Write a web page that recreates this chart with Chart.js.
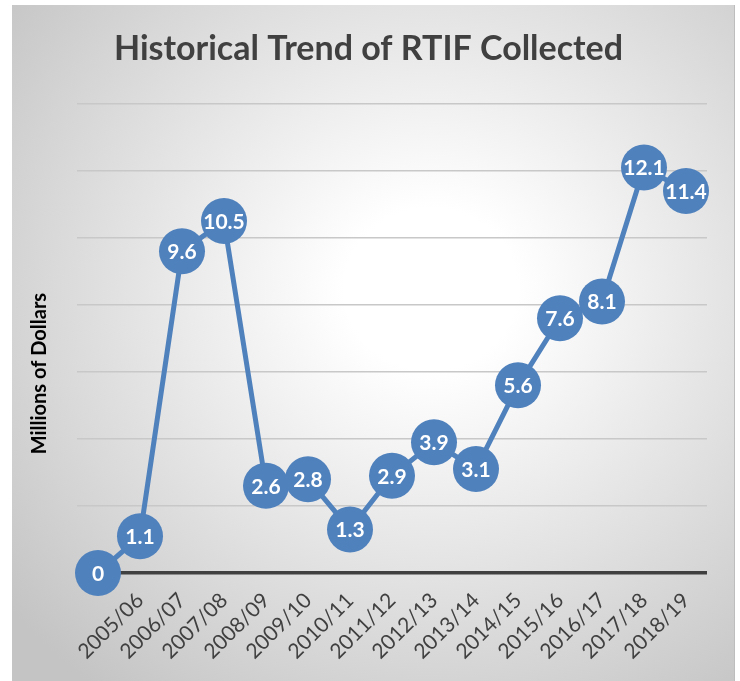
<!DOCTYPE html>
<html>
<head>
<meta charset="utf-8">
<script src="https://cdn.jsdelivr.net/npm/chart.js@4/dist/chart.umd.min.js"></script>
<style>
  html, body { margin: 0; padding: 0; background: #ffffff; }
  #bg {
    position: absolute; left: 12px; top: 5px; width: 722px; height: 676px;
    background: radial-gradient(ellipse 75% 75% at 58% 42%, #ffffff 0%, #ffffff 16%, #c4c4c4 100%);
    border-right: 1px solid #bdbdbd;
  }
  #wrap { position: absolute; left: 0; top: 0; width: 740px; height: 681px; }
</style>
</head>
<body>
<div id="bg"></div>
<div id="wrap"><canvas id="c" width="740" height="681"></canvas></div>
<script>
const categories = ['', '2005/06', '2006/07', '2007/08', '2008/09', '2009/10', '2010/11', '2011/12', '2012/13', '2013/14', '2014/15', '2015/16', '2016/17', '2017/18', '2018/19'];
const rtifCollected = [0, 1.1, 9.6, 10.5, 2.6, 2.8, 1.3, 2.9, 3.9, 3.1, 5.6, 7.6, 8.1, 12.1, 11.4];
const chartTitle = 'Historical Trend of RTIF Collected';
const yAxisTitle = 'Millions of Dollars';

const pointLabels = {
  id: 'pointLabels',
  afterDatasetsDraw(chart) {
    const ctx = chart.ctx;
    const meta = chart.getDatasetMeta(0);
    ctx.save();
    ctx.fillStyle = '#ffffff';
    ctx.font = 'bold 21px Lato';
    ctx.textAlign = 'center';
    ctx.textBaseline = 'middle';
    meta.data.forEach((el, i) => {
      ctx.fillText(String(rtifCollected[i]), el.x, el.y + 1);
    });
    ctx.restore();
  }
};

const yTitlePlugin = {
  id: 'yTitlePlugin',
  afterDraw(chart) {
    const ctx = chart.ctx;
    const area = chart.chartArea;
    ctx.save();
    ctx.translate(40, area.top + (area.bottom - area.top) * 0.575);
    ctx.rotate(-Math.PI / 2);
    ctx.fillStyle = '#000000';
    ctx.font = 'bold 20px Lato';
    ctx.textAlign = 'center';
    ctx.textBaseline = 'middle';
    ctx.fillText(yAxisTitle, 0, 0);
    ctx.restore();
  }
};

new Chart(document.getElementById('c'), {
  type: 'line',
  data: {
    labels: categories,
    datasets: [{
      data: rtifCollected,
      borderColor: '#4F81BD',
      backgroundColor: '#4F81BD',
      borderWidth: 5,
      pointRadius: 23,
      pointHoverRadius: 23,
      pointBackgroundColor: '#4F81BD',
      pointBorderColor: '#4F81BD',
      pointBorderWidth: 0,
      tension: 0,
      clip: false
    }]
  },
  options: {
    responsive: false,
    animation: false,
    events: [],
    layout: { padding: { left: 30, right: 33, top: 10, bottom: 8 } },
    plugins: {
      legend: { display: false },
      tooltip: { enabled: false },
      title: {
        display: true,
        text: chartTitle,
        color: '#404040',
        font: { family: 'Lato', size: 34, weight: 'bold' },
        padding: { top: 19, bottom: 34 }
      }
    },
    scales: {
      x: {
        offset: true,
        grid: { display: false, drawTicks: false },
        border: { display: false },
        ticks: {
          color: '#404040',
          font: { family: 'Lato', size: 21 },
          minRotation: 45,
          maxRotation: 45,
          autoSkip: false,
          padding: 15
        },
        afterFit(s) { s.height = 100; }
      },
      y: {
        min: 0,
        max: 14,
        ticks: { display: false, stepSize: 2 },
        grid: {
          drawTicks: false,
          color: (c) => c.tick && c.tick.value === 0 ? '#404040' : '#c8c8c8',
          lineWidth: (c) => c.tick && c.tick.value === 0 ? 3.5 : 1.5
        },
        border: { display: false },
        afterFit(s) { s.width = 47; }
      }
    }
  },
  plugins: [pointLabels, yTitlePlugin]
});
</script>
</body>
</html>
